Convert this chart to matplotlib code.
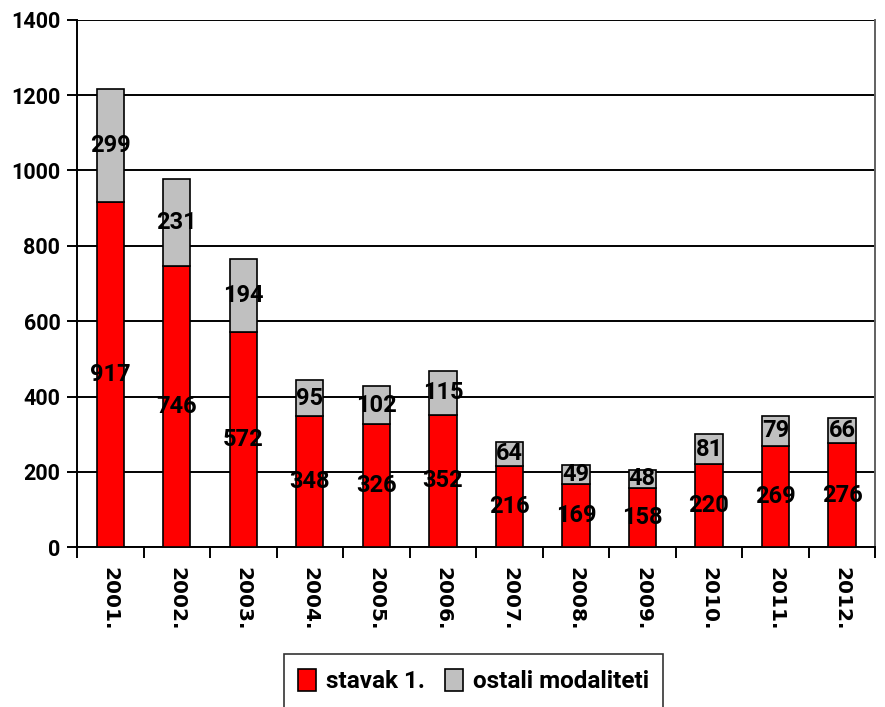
import matplotlib
matplotlib.use("Agg")
import matplotlib.pyplot as plt
import numpy as np

years = ["2001.", "2002.", "2003.", "2004.", "2005.", "2006.",
         "2007.", "2008.", "2009.", "2010.", "2011.", "2012."]
stavak = [917, 746, 572, 348, 326, 352, 216, 169, 158, 220, 269, 276]
ostali = [299, 231, 194, 95, 102, 115, 64, 49, 48, 81, 79, 66]

LBL_FONT = "Roboto"

fig = plt.figure(figsize=(8.85, 7.07), dpi=100)
ax = fig.add_axes([0.087, 0.226, 0.902, 0.746])

x = np.arange(len(years))
w = 0.41
b1 = ax.bar(x, stavak, w, color="#FF0000", edgecolor="black", linewidth=1.2,
            label="stavak 1.", zorder=3)
b2 = ax.bar(x, ostali, w, bottom=stavak, color="#C0C0C0", edgecolor="black",
            linewidth=1.2, label="ostali modaliteti", zorder=3)

for i in range(len(years)):
    ax.text(x[i], stavak[i] / 2, str(stavak[i]), ha="center", va="center",
            fontsize=17, fontweight="bold", family=LBL_FONT, zorder=4)
    ax.text(x[i], stavak[i] + ostali[i] / 2, str(ostali[i]), ha="center",
            va="center", fontsize=17, fontweight="bold", family=LBL_FONT, zorder=4)

ax.set_xlim(-0.5, len(years) - 0.5)
ax.set_ylim(0, 1400)
ax.set_yticks(range(0, 1401, 200))
ax.yaxis.grid(True, color="black", linewidth=1.4, zorder=0)
ax.set_axisbelow(True)

ax.set_xticks(x)
ax.set_xticklabels(years, rotation=270, fontsize=14.5, fontweight="bold",
                   family="DejaVu Sans")
ax.set_xticks(np.arange(-0.5, len(years), 1.0), minor=True)
ax.tick_params(axis="x", which="major", length=0, pad=14)
ax.tick_params(axis="x", which="minor", length=8, width=1.4, direction="out")
ax.tick_params(axis="y", length=7, width=1.4, direction="out", pad=5)
for t in ax.get_yticklabels():
    t.set_fontsize(15.5)
    t.set_fontweight("bold")
    t.set_family(LBL_FONT)

for s in ax.spines.values():
    s.set_linewidth(1.4)
    s.set_color("black")
ax.spines["top"].set_visible(False)
ax.spines["right"].set_color("#606060")

leg = fig.legend(handles=[b1, b2], loc="lower center",
                 bbox_to_anchor=(0.535, -0.018), ncol=2, frameon=True,
                 fancybox=False, edgecolor="black", handlelength=0.75,
                 handleheight=1.0, handletextpad=0.4, columnspacing=0.8,
                 borderpad=0.6,
                 prop={"family": LBL_FONT, "weight": "bold", "size": 17.5})
leg.get_frame().set_linewidth(1.2)

fig.savefig("out.png", dpi=100, facecolor="white")
